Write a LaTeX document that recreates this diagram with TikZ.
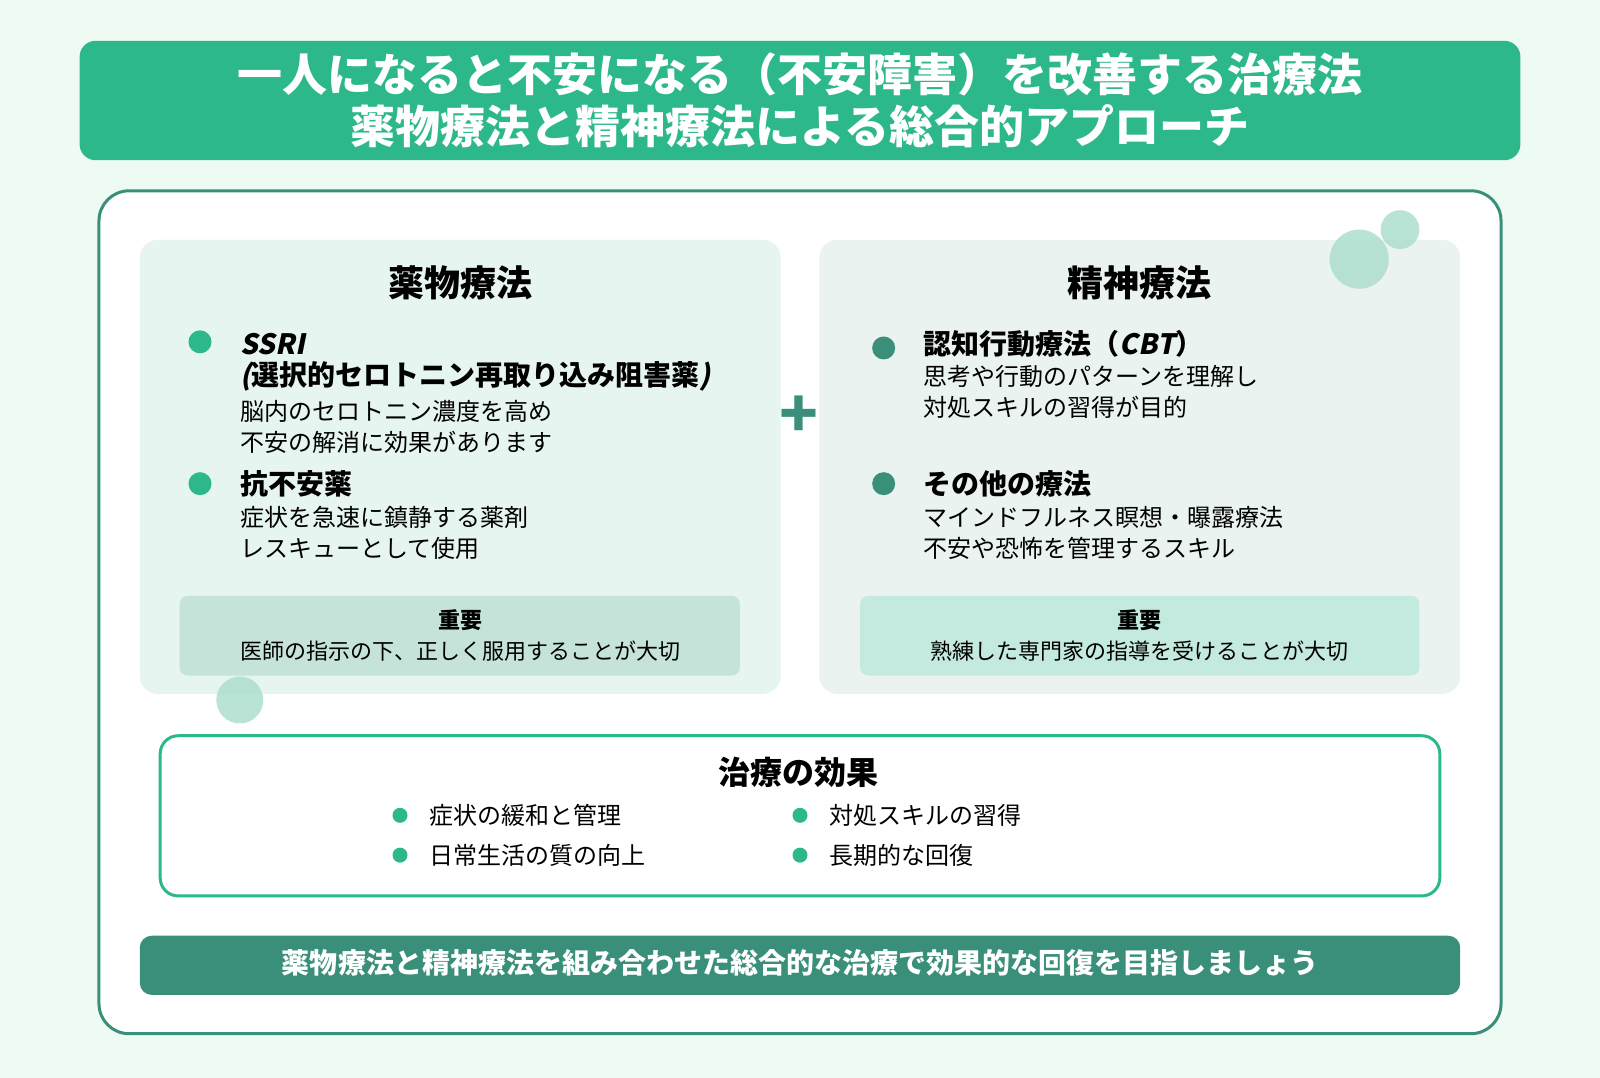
\documentclass[tikz,border=0pt]{standalone}
\usepackage{fontspec}
\setmainfont{Noto Sans CJK JP}
\newfontfamily\slfont[FakeSlant=0.2]{Noto Sans CJK JP}
\definecolor{bg}{HTML}{EEFBF3}
\definecolor{teal}{HTML}{2DB88C}
\definecolor{deep}{HTML}{3A8F7A}
\definecolor{leftfill}{HTML}{E6F5EF}
\definecolor{rightfill}{HTML}{EAF3F0}
\definecolor{noteleft}{HTML}{C6E3DA}
\definecolor{noteright}{HTML}{C4E9DE}
\definecolor{deco}{HTML}{A8DCCB}
\tikzset{
  panel/.style={rounded corners=18pt},
  head/.style={font=\fontsize{36}{40}\selectfont\bfseries},
  body/.style={anchor=west, align=left, font=\fontsize{24}{31}\selectfont},
  item/.style={anchor=west, font=\fontsize{28}{32}\selectfont\bfseries},
  dot/.style={circle, inner sep=0pt, minimum size=23pt},
  note/.style={align=center, font=\fontsize{22}{31}\selectfont}
}
\begin{document}
\begin{tikzpicture}[x=1.0204pt,y=-1.0204pt]
  \fill[bg] (0,0) rectangle (1568,1056);
  \useasboundingbox (0,0) rectangle (1568,1056);
  % title
  \fill[teal, rounded corners=16pt] (78,40) rectangle (1490,157);
  \node[text=white, align=center, font=\fontsize{45}{52}\selectfont\bfseries] (title) at (784,98)
    {一人になると不安になる（不安障害）を改善する治療法\\薬物療法と精神療法による総合的アプローチ};
  % frame
  \draw[deep, line width=3pt, fill=white, rounded corners=30pt] (97,187) rectangle (1471,1013);
  % panels
  \fill[leftfill, panel] (137,235) rectangle (765,680);
  \fill[rightfill, panel] (803,235) rectangle (1431,680);
  \fill[deco, opacity=.8] (1332,254) circle (29);
  \fill[deco, opacity=.8] (1372,225) circle (19);
  \fill[deco, opacity=.8] (235,686) circle (23);
  % left panel
  \node[head] (drug) at (451,277) {薬物療法};
  \node[dot, fill=teal] (d1) at (196,335) {};
  \node[item] (ssri) at (232,337) {\slfont\bfseries SSRI};
  \node[item] (ssri2) at (232,369) {{\slfont\bfseries (}選択的セロトニン再取り込み阻害薬{\slfont\bfseries )}};
  \node[body] (ssrib) at (232,418) {脳内のセロトニン濃度を高め\\不安の解消に効果があります};
  \node[dot, fill=teal] (d2) at (196,474) {};
  \node[item] (anx) at (232,474) {抗不安薬};
  \node[body] (anxb) at (232,522) {症状を急速に鎮静する薬剤\\レスキューとして使用};
  \fill[noteleft, rounded corners=8pt] (176,584) rectangle (725,662);
  \node[note] (nl) at (451,623) {\textbf{重要}\\医師の指示の下、正しく服用することが大切};
  % plus
  \node[text=deep, font=\fontsize{64}{64}\selectfont\bfseries] (plus) at (783,408) {+};
  % right panel
  \node[head] (psy) at (1117,277) {精神療法};
  \node[dot, fill=deep] (p1) at (866,341) {};
  \node[item] (cbt) at (902,337) {認知行動療法（{\slfont\bfseries CBT}）};
  \node[body] (cbtb) at (902,384) {思考や行動のパターンを理解し\\対処スキルの習得が目的};
  \node[dot, fill=deep] (p2) at (866,474) {};
  \node[item] (oth) at (902,474) {その他の療法};
  \node[body] (othb) at (902,522) {マインドフルネス瞑想・曝露療法\\不安や恐怖を管理するスキル};
  \fill[noteright, rounded corners=8pt] (843,584) rectangle (1391,662);
  \node[note] (nr) at (1117,623) {\textbf{重要}\\熟練した専門家の指導を受けることが大切};
  % effects
  \draw[teal, line width=3pt, fill=white, rounded corners=18pt] (157,721) rectangle (1411,878);
  \node[head, font=\fontsize{32}{36}\selectfont\bfseries] (eff) at (783,757) {治療の効果};
  \foreach \x/\y/\t in {392/799/症状の緩和と管理, 392/838/日常生活の質の向上,
                        784/799/対処スキルの習得, 784/838/長期的な回復}{
    \node[dot, minimum size=15pt, fill=teal] at (\x,\y) {};
    \node[body] at (\x+25,\y) {\t};
  }
  % bottom bar
  \fill[deep, rounded corners=12pt] (137,917) rectangle (1431,975);
  \node[text=white, font=\fontsize{28}{30}\selectfont\bfseries] (msg) at (784,944)
    {薬物療法と精神療法を組み合わせた総合的な治療で効果的な回復を目指しましょう};
\end{tikzpicture}
\end{document}
